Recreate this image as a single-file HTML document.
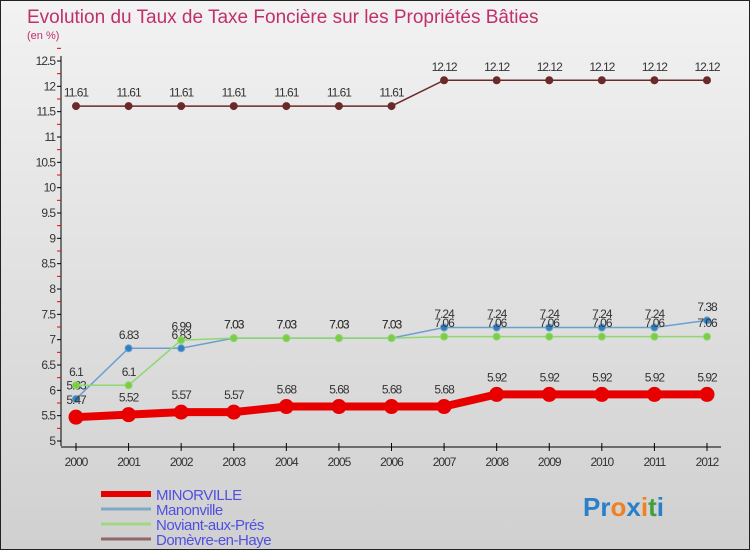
<!DOCTYPE html>
<html><head><meta charset="utf-8"><style>
body{margin:0;}
#c{width:750px;height:550px;position:relative;background:linear-gradient(#f2f2f2,#d0d0d0);font-family:"Liberation Sans",sans-serif;overflow:hidden;box-sizing:border-box;border:1px solid #222;}
</style></head><body>
<div id="c">
<svg id="s" width="750" height="550" xmlns="http://www.w3.org/2000/svg"></svg>
</div>
<script>
const years=[2000,2001,2002,2003,2004,2005,2006,2007,2008,2009,2010,2011,2012];
const minorville=[5.47,5.52,5.57,5.57,5.68,5.68,5.68,5.68,5.92,5.92,5.92,5.92,5.92];
const manonville=[5.83,6.83,6.83,7.03,7.03,7.03,7.03,7.24,7.24,7.24,7.24,7.24,7.38];
const noviant=[6.1,6.1,6.99,7.03,7.03,7.03,7.03,7.06,7.06,7.06,7.06,7.06,7.06];
const domevre=[11.61,11.61,11.61,11.61,11.61,11.61,11.61,12.12,12.12,12.12,12.12,12.12,12.12];
const yTicks=[5,5.5,6,6.5,7,7.5,8,8.5,9,9.5,10,10.5,11,11.5,12,12.5];
const svg=document.getElementById('s');const NS='http://www.w3.org/2000/svg';
function el(t,a,p){const e=document.createElementNS(NS,t);for(const k in a)e.setAttribute(k,a[k]);(p||svg).appendChild(e);return e;}
const X=i=>75+i*(706-75)/12;
const Y=v=>440-(v-5)*(380/7.5);
let t=el('text',{x:26,y:22,'font-size':19,fill:'#c0306a'});t.textContent='Evolution du Taux de Taxe Foncière sur les Propriétés Bâties';

t=el('text',{x:26,y:38,'font-size':11,fill:'#c0306a'});t.textContent='(en %)';

let ax=el('g',{});
el('line',{x1:60,y1:55,x2:60,y2:445,stroke:'#000'},ax);
yTicks.forEach(v=>{el('line',{x1:56,y1:Y(v),x2:60,y2:Y(v),stroke:'#000'},ax);
el('line',{x1:56,y1:Y(v+0.25),x2:60,y2:Y(v+0.25),stroke:'#e00'},ax);
const tt=el('text',{x:54,y:Y(v)+4,'font-size':12,'text-anchor':'end',fill:'#333','letter-spacing':'-1'},ax);tt.textContent=String(v);});
let xa=el('g',{});
el('line',{x1:60,y1:446,x2:720,y2:446,stroke:'#000'},xa);
years.forEach((y,i)=>{el('line',{x1:X(i),y1:442,x2:X(i),y2:450,stroke:'#000'},xa);
const tt=el('text',{x:X(i),y:465,'font-size':12,'text-anchor':'middle',fill:'#333','letter-spacing':'-1'},xa);tt.textContent=y;});
function series(d,name,col,w,r,dot){const g=el('g',{});
el('polyline',{points:d.map((v,i)=>X(i)+','+Y(v)).join(' '),fill:'none',stroke:col,'stroke-width':w},g);
d.forEach((v,i)=>{const c=el('circle',{cx:X(i),cy:Y(v),r:r,fill:dot,stroke:col},g);
const tt=el('text',{x:X(i),y:Y(v)-(r+6),'font-size':12,'text-anchor':'middle',fill:'#333','letter-spacing':'-1'},g);tt.textContent=String(v);});}
series(domevre,'domevre-series','#6b2a2a',1.5,3.5,'#6b2a2a');
series(manonville,'manonville-series','#6aa0d0',1.5,3.5,'#3080c0');
series(noviant,'noviant-series','#8fd870',1.5,3.5,'#7ccc44');
series(minorville,'minorville-series','#e80000',8,7,'#e80000');
const leg=[['MINORVILLE','#e80000',6],['Manonville','#80a8c8',3],['Noviant-aux-Prés','#a0d880',3],['Domèvre-en-Haye','#906868',3]];
leg.forEach((l,i)=>{const g=el('g',{});
const y=493+i*15;el('line',{x1:100,y1:y,x2:150,y2:y,stroke:l[1],'stroke-width':l[2]},g);
const tt=el('text',{x:155,y:y+6,'font-size':15,fill:'#5050e0','letter-spacing':'-0.5'},g);tt.textContent=l[0];});
const lg=el('text',{x:582,y:515,'font-size':26,'font-weight':'bold'});
[['Pr','#2a80c8'],['o','#f08020'],['x','#2a80c8'],['i','#f08020'],['t','#40a040'],['i','#2a80c8']].forEach(p=>{const s=el('tspan',{fill:p[1]},lg);s.textContent=p[0];});
</script>
</body></html>
